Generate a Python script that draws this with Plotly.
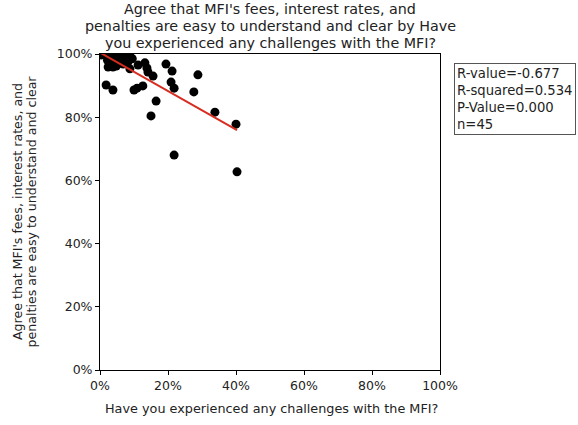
import numpy as np
import plotly.graph_objects as go

x_vals = [0.3, 1.5, 2.9, 4.4, 5.3, 6.5, 7.6, 8.8, 7.0, 5.9, 8.2,
          4.0, 6.0, 9.5, 3.5, 5.0, 7.2, 2.2, 6.8, 4.8,
          2.4, 3.8, 8.8, 11.2, 13.2, 13.8, 14.1, 15.6, 19.4, 21.2, 28.8,
          1.8, 3.8, 10.0, 10.9, 12.6, 20.9, 21.8, 27.6,
          16.5, 15.0, 33.8, 40.0, 21.8, 40.3]
y_vals = [99.7, 99.7, 99.4, 99.1, 99.7, 99.4, 99.1, 99.4, 98.1, 98.1, 97.5,
          97.0, 100.0, 98.5, 100.0, 98.8, 100.0, 98.0, 96.8, 96.2,
          95.9, 95.9, 95.3, 96.5, 97.2, 95.6, 94.3, 93.0, 96.8, 94.6, 93.4,
          90.2, 88.6, 88.6, 89.2, 89.9, 91.1, 89.2, 88.0,
          85.1, 80.4, 81.6, 77.8, 68.0, 62.7]

stats_lines = ["R-value=-0.677", "R-squared=0.534", "P-Value=0.000", "n=45"]
title_lines = ["Agree that MFI's fees, interest rates, and",
               "penalties are easy to understand and clear by Have",
               "you experienced any challenges with the MFI?"]
x_title = "Have you experienced any challenges with the MFI?"
y_title_lines = ["Agree that MFI's fees, interest rates, and",
                 "penalties are easy to understand and clear"]
tick_vals = [0, 20, 40, 60, 80, 100]
tick_text = ["0%", "20%", "40%", "60%", "80%", "100%"]

x = np.array(x_vals)
y = np.array(y_vals)
slope, intercept = np.polyfit(x, y, 1)
xl = np.array([x.min(), x.max()])
yl = slope * xl + intercept

font = "DejaVu Sans, sans-serif"
TXT = "#222"
PX_L, PX_R, PX_T, PX_B = 100, 440, 54, 370
PW, PH = PX_R - PX_L, PX_B - PX_T

def px_to_paper_x(px):
    return (px - PX_L) / PW

def px_to_paper_y(py):
    return (PX_B - py) / PH

fig = go.Figure()
fig.add_trace(go.Scatter(x=x, y=y, mode="markers",
                         marker=dict(color="black", size=9, line=dict(width=0)),
                         showlegend=False))
fig.add_trace(go.Scatter(x=xl, y=yl, mode="lines",
                         line=dict(color="#d62d20", width=2), showlegend=False))

axis_common = dict(range=[0, 100], tickvals=tick_vals, ticktext=tick_text,
                   showgrid=False, zeroline=False, showline=True, mirror=True,
                   linecolor="black", linewidth=1, ticks="outside", ticklen=4,
                   tickcolor="black", tickfont=dict(family=font, size=12.5, color=TXT))
fig.update_xaxes(**axis_common)
fig.update_yaxes(**axis_common)

annotations = []
# title lines
for i, line in enumerate(title_lines):
    annotations.append(dict(text=line, xref="paper", yref="paper",
                            x=px_to_paper_x(270), y=px_to_paper_y(9.5 + 16.5 * i),
                            xanchor="center", yanchor="middle", showarrow=False,
                            font=dict(family=font, size=14.3, color="#222")))
# x title
annotations.append(dict(text=x_title, xref="paper", yref="paper",
                        x=px_to_paper_x(271), y=px_to_paper_y(408),
                        xanchor="center", yanchor="middle", showarrow=False,
                        font=dict(family=font, size=12.8, color=TXT)))
# y title lines
for i, line in enumerate(y_title_lines):
    annotations.append(dict(text=line, xref="paper", yref="paper",
                            x=px_to_paper_x(17 + 13.5 * i), y=px_to_paper_y(212),
                            xanchor="center", yanchor="middle", showarrow=False,
                            textangle=-90,
                            font=dict(family=font, size=12.6, color=TXT)))
# stats box
annotations.append(dict(text="<br>".join(stats_lines), xref="paper", yref="paper",
                        x=px_to_paper_x(454), y=px_to_paper_y(63),
                        xanchor="left", yanchor="top",
                        showarrow=False, align="left",
                        bordercolor="#555", borderwidth=1, borderpad=2,
                        bgcolor="white",
                        font=dict(family=font, size=13.2, color=TXT)))

fig.update_layout(
    width=578, height=425,
    margin=dict(l=PX_L, r=578 - PX_R, t=PX_T, b=425 - PX_B),
    plot_bgcolor="white", paper_bgcolor="white",
    annotations=annotations,
)

fig.write_html("out.html")
